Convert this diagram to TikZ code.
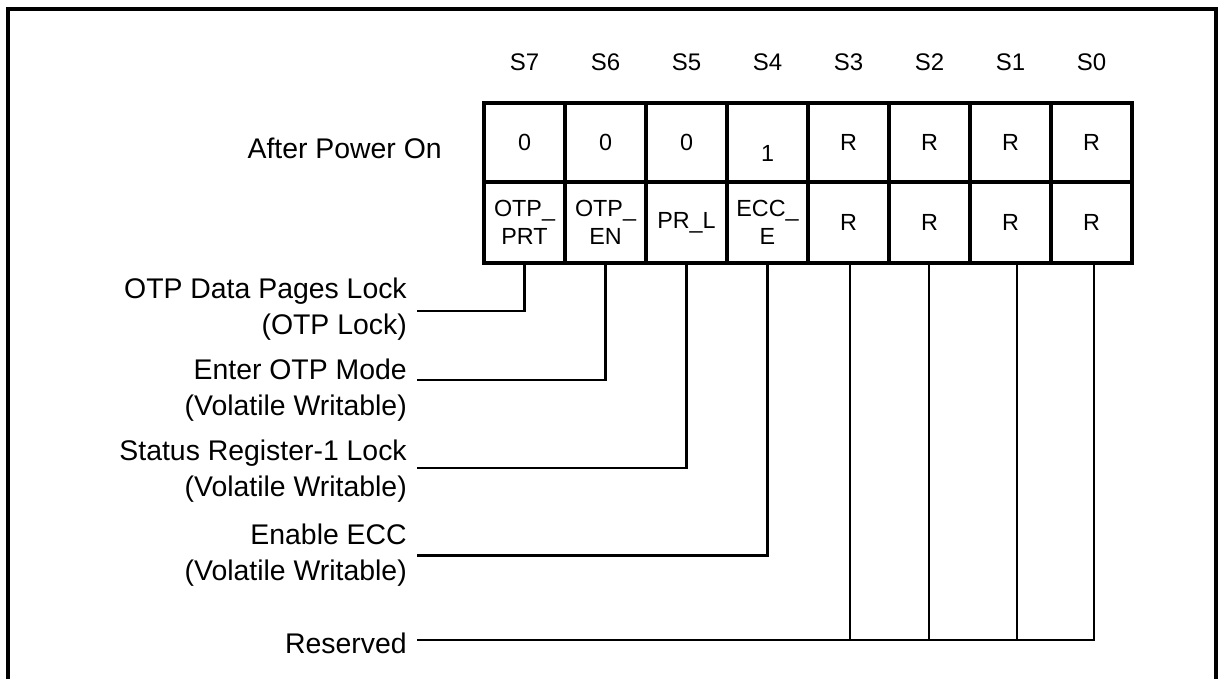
\documentclass[tikz,border=0pt]{standalone}
\usepackage{fontspec}
\setmainfont{Liberation Sans}
\begin{document}
\begin{tikzpicture}[x=0.75pt,y=-0.75pt,
  topcell/.style={draw, line width=3pt, minimum width=60.75pt, minimum height=59.25pt, inner sep=0pt, align=center, font=\fontsize{17.5}{21}\selectfont},
  botcell/.style={draw, line width=3pt, minimum width=60.75pt, minimum height=60.75pt, inner sep=0pt, align=center, font=\fontsize{17.5}{21}\selectfont},
  slbl/.style={font=\fontsize{18}{21}\selectfont, inner sep=0pt},
  lbl/.style={font=\fontsize{21.3}{27}\selectfont, align=right, inner xsep=7.5pt, inner ysep=0pt, anchor=east},
  conn/.style={line width=1.6pt},
  frame/.style={line width=2.4pt}
]
\useasboundingbox (0,0) rectangle (1221,679);
\draw[frame] (8,679) -- (8,9) -- (1216,9) -- (1216,679);

% bit labels
\foreach \i/\n in {0/7,1/6,2/5,3/4,4/3,5/2,6/1,7/0}{
  \node[slbl] (s\n) at (524.5+81*\i,62) {S\n};
}

% row label
\node[font=\fontsize{21.3}{27}\selectfont, anchor=east, inner sep=0pt] (pw) at (442,148) {After Power On};

% top row
\node[topcell] (t7) at (524.5,142.5) {0};
\node[topcell] (t6) at (605.5,142.5) {0};
\node[topcell] (t5) at (686.5,142.5) {0};
\node[topcell, label={[font=\fontsize{17.5}{21}\selectfont, yshift=-8pt]center:1}] (t4) at (767.5,142.5) {};
\node[topcell] (t3) at (848.5,142.5) {R};
\node[topcell] (t2) at (929.5,142.5) {R};
\node[topcell] (t1) at (1010.5,142.5) {R};
\node[topcell] (t0) at (1091.5,142.5) {R};

% bottom row
\node[botcell] (b7) at (524.5,222.5) {OTP\_\\PRT};
\node[botcell] (b6) at (605.5,222.5) {OTP\_\\EN};
\node[botcell] (b5) at (686.5,222.5) {PR\_L};
\node[botcell] (b4) at (767.5,222.5) {ECC\_\\E};
\node[botcell] (b3) at (848.5,222.5) {R};
\node[botcell] (b2) at (929.5,222.5) {R};
\node[botcell] (b1) at (1010.5,222.5) {R};
\node[botcell] (b0) at (1091.5,222.5) {R};

% descriptions
\node[lbl] (l7) at (417,309) {OTP Data Pages Lock\\(OTP Lock)};
\node[lbl] (l6) at (417,390.5) {Enter OTP Mode\\(Volatile Writable)};
\node[lbl] (l5) at (417,471.5) {Status Register-1 Lock\\(Volatile Writable)};
\node[lbl] (l4) at (417,555.5) {Enable ECC\\(Volatile Writable)};
\node[lbl] (lr) at (417,643) {Reserved};

% connectors
\draw[conn] (b7.south) |- ([yshift=-1.5pt]l7.east);
\draw[conn] (b6.south) |- ([yshift=7.9pt]l6.east);
\draw[conn] (b5.south) |- ([yshift=2.6pt]l5.east);
\draw[conn] (b4.south) |- (l4.east);
\draw[conn] ([xshift=1.1pt]b3.south) |- ([yshift=2.25pt]lr.east);
\draw[conn] ([xshift=-0.4pt]b2.south) |- ([yshift=2.25pt]lr.east);
\draw[conn] ([xshift=4.9pt]b1.south) |- ([yshift=2.25pt]lr.east);
\draw[conn] ([xshift=1.9pt]b0.south) |- ([yshift=2.25pt]lr.east);
\end{tikzpicture}
\end{document}
